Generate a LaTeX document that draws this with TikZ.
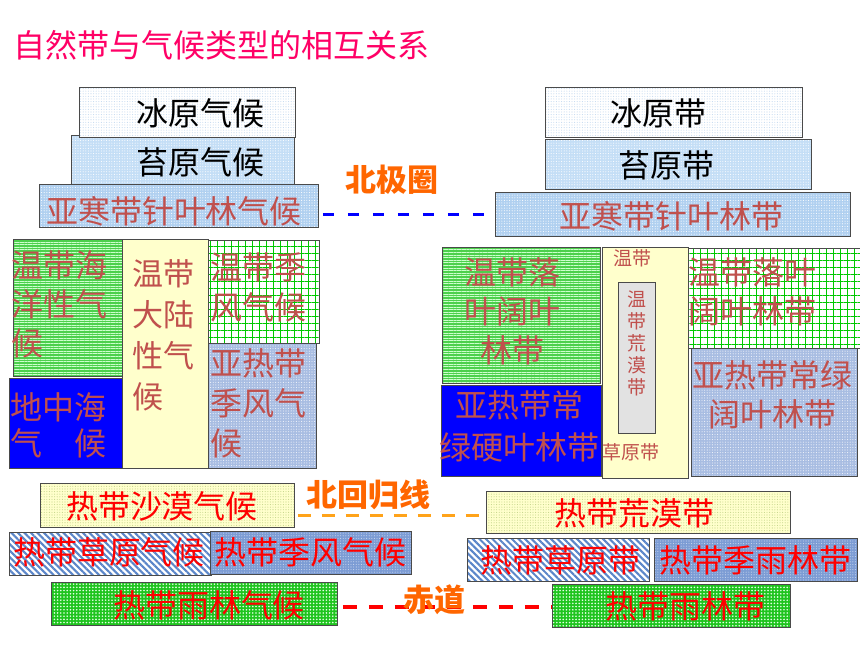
\documentclass[tikz,border=0pt]{standalone}
\usepackage{fontspec}
\setmainfont{Noto Sans CJK SC}
\usepackage{tikz}
\usetikzlibrary{patterns.meta}

\definecolor{titlepink}{HTML}{FF0066}
\definecolor{edgegray}{HTML}{4A4A4A}
\definecolor{brick}{HTML}{C0504D}
\definecolor{icedot}{HTML}{C4DAF0}
\definecolor{tundrablue}{HTML}{C4DEF6}
\definecolor{taigablue}{HTML}{B0D0F0}
\definecolor{oceangreen}{HTML}{4CD04C}
\definecolor{medblue}{HTML}{0000FF}
\definecolor{paleyellow}{HTML}{FFFFCC}
\definecolor{gridgreen}{HTML}{00C800}
\definecolor{steelgray}{HTML}{A8BDE2}
\definecolor{desertdot}{HTML}{C4D48A}
\definecolor{savblue}{HTML}{5B86C9}
\definecolor{tmonblue}{HTML}{7C9CD4}
\definecolor{rainfgreen}{HTML}{1EC41E}
\definecolor{tdesgray}{HTML}{E2E2E2}
\definecolor{circleorange}{HTML}{FF6600}
\definecolor{tropicorange}{HTML}{FFA31A}

\begin{document}
\begin{tikzpicture}[x=1pt,y=-1pt,
    zone/.style={draw=edgegray, line width=0.8pt, inner sep=0pt, anchor=north west},
    speckle/.style 2 args={preaction={fill=#1}, pattern={Dots[radius=0.55pt,distance=2.6pt]}, pattern color=#2},
    stripes/.style={preaction={fill=oceangreen}, pattern={Lines[angle=0,distance=2.6pt,line width=0.9pt]}, pattern color=white!80!green},
    meshed/.style={preaction={fill=white}, pattern={Hatch[angle=0,distance=7pt,line width=0.6pt]}, pattern color=gridgreen},
    hatched/.style={preaction={fill=white}, pattern={Lines[angle=-45,distance=4.6pt,line width=2.1pt]}, pattern color=savblue},
    txt/.style={inner sep=0pt, font=\fontsize{32}{39}\selectfont},
    smalltxt/.style={inner sep=0pt, font=\fontsize{19}{22}\selectfont},
    linename/.style={inner sep=0pt, text=circleorange, font=\fontsize{31}{31}\selectfont\bfseries}]
    \useasboundingbox[fill=white] (0,0) rectangle (860,645);

    % Title
    \node[anchor=west, inner sep=0pt, text=titlepink, font=\fontsize{32}{32}\selectfont] (title) at (13,45) {自然带与气候类型的相互关系};

    % Climate types (left)
    \node[zone, speckle={tundrablue}{white}, minimum width=223pt, minimum height=49pt] (tundraC) at (71,135) {};
    \node[zone, speckle={white}{icedot}, minimum width=216pt, minimum height=50pt] (iceC) at (79,87) {};
    \node[zone, speckle={taigablue}{white}, minimum width=279pt, minimum height=43pt] (taigaC) at (39,184) {};
    \node[zone, stripes, minimum width=109pt, minimum height=137pt] (oceanC) at (13,239) {};
    \node[zone, fill=medblue, minimum width=113pt, minimum height=90pt] (medC) at (9,378) {};
    \node[zone, fill=paleyellow, minimum width=86pt, minimum height=229pt] (contC) at (122,239) {};
    \node[zone, meshed, minimum width=111pt, minimum height=103pt] (monC) at (208,240) {};
    \node[zone, speckle={steelgray}{white!85!steelgray}, minimum width=108pt, minimum height=125pt] (subC) at (208,343) {};
    \node[zone, speckle={paleyellow}{desertdot}, minimum width=254pt, minimum height=44pt] (desertC) at (40,483) {};
    \node[zone, hatched, minimum width=202pt, minimum height=43pt] (savC) at (8,531) {};
    \node[zone, speckle={tmonblue}{white!60!tmonblue}, minimum width=201pt, minimum height=43pt] (tmonC) at (210,531) {};
    \node[zone, preaction={fill=rainfgreen}, pattern={Dots[radius=0.9pt,distance=3.2pt]}, pattern color=white!90!green, minimum width=286pt, minimum height=43pt] (rainC) at (51,582) {};

    % Natural zones (right)
    \node[zone, speckle={white}{icedot}, minimum width=257pt, minimum height=50pt] (iceZ) at (545,87) {};
    \node[zone, speckle={tundrablue}{white}, minimum width=266pt, minimum height=50pt] (tundraZ) at (545,139) {};
    \node[zone, speckle={taigablue}{white}, minimum width=355pt, minimum height=44pt] (taigaZ) at (495,192) {};
    \node[zone, stripes, minimum width=158pt, minimum height=136pt] (deciZ) at (442,247) {};
    \node[zone, fill=medblue, minimum width=160pt, minimum height=91pt] (sclerZ) at (441,385) {};
    \node[zone, fill=paleyellow, minimum width=86pt, minimum height=231pt] (steppeZ) at (602,247) {};
    \node[zone, fill=tdesgray, minimum width=37pt, minimum height=151pt] (tdesZ) at (618,282) {};
    \node[zone, meshed, minimum width=172pt, minimum height=100pt] (monZ) at (688,248) {};
    \node[zone, speckle={steelgray}{white!85!steelgray}, minimum width=166pt, minimum height=128pt] (everZ) at (691,348) {};
    \node[zone, speckle={paleyellow}{desertdot}, minimum width=304pt, minimum height=42pt] (desertZ) at (486,491) {};
    \node[zone, hatched, minimum width=182pt, minimum height=43pt] (savZ) at (467,538) {};
    \node[zone, speckle={tmonblue}{white!60!tmonblue}, minimum width=203pt, minimum height=43pt] (tmonZ) at (654,538) {};
    \node[zone, preaction={fill=rainfgreen}, pattern={Dots[radius=0.9pt,distance=3.2pt]}, pattern color=white!90!green, minimum width=238pt, minimum height=43pt] (rainZ) at (552,584) {};

    % Boundary lines
    \draw[blue, line width=3.5pt, dash pattern=on 11pt off 14pt] ([xshift=4pt]taigaC.east |- taigaZ.west) -- ([xshift=-8pt]taigaZ.west);
    \draw[tropicorange, line width=3.5pt, dash pattern=on 13pt off 11pt] ([xshift=3pt,yshift=-10pt]desertC.east) -- ([xshift=-3pt,yshift=-3pt]desertZ.west);
    \draw[red, line width=3.5pt, dash pattern=on 14pt off 12pt] ([xshift=5pt,yshift=-3pt]rainC.east) -- ([xshift=-1pt,yshift=-1pt]rainZ.west);

    % Labels, climate types
    \node[txt] (iceCt) at (200,113) {冰原气候};
    \node[txt] (tundraCt) at (200,162) {苔原气候};
    \node[txt, text=brick] (taigaCt) at (174,211) {亚寒带针叶林气候};
    \node[txt, text=brick, anchor=west, align=left] (oceanCt) at (11,304) {温带海\\洋性气\\候};
    \node[txt, text=brick, anchor=west, align=left, font=\fontsize{32}{36}\selectfont] (medCt) at (10,425) {地中海\\气\hspace{1em}候};
    \node[txt, text=brick, anchor=west, align=left, font=\fontsize{31}{41}\selectfont] (contCt) at (132,335) {温带\\大陆\\性气\\候};
    \node[txt, text=brick, anchor=west, align=left, font=\fontsize{32}{40}\selectfont] (monCt) at (210,287) {温带季\\风气候};
    \node[txt, text=brick, anchor=west, align=left, font=\fontsize{32}{40}\selectfont] (subCt) at (210,403) {亚热带\\季风气\\候};
    \node[txt, text=red] (desertCt) at (162,506) {热带沙漠气候};
    \node[txt, text=red] (savCt) at (109,552) {热带草原气候};
    \node[txt, text=red] (tmonCt) at (310,552) {热带季风气候};
    \node[txt, text=red] (rainCt) at (209,605) {热带雨林气候};

    % Labels, natural zones
    \node[txt] (iceZt) at (658,113) {冰原带};
    \node[txt] (tundraZt) at (666,165) {苔原带};
    \node[txt, text=brick] (taigaZt) at (671,216) {亚寒带针叶林带};
    \node[txt, text=brick, align=center] (deciZt) at (512,311) {温带落\\叶阔叶\\林带};
    \node[txt, text=brick, align=center, font=\fontsize{32}{42}\selectfont] (sclerZt) at (519,426) {亚热带常\\绿硬叶林带};
    \node[smalltxt, text=brick] (steppeZt) at (632,258) {温带};
    \node[smalltxt, text=brick, align=center] (tdesZt) at (637,343) {温\\带\\荒\\漠\\带};
    \node[smalltxt, text=brick] (grassZt) at (631,452) {草原带};
    \node[txt, text=brick, anchor=west, align=left] (monZt) at (688,292) {温带落叶\\阔叶林带};
    \node[txt, text=brick, align=center] (everZt) at (772,395) {亚热带常绿\\阔叶林带};
    \node[txt, text=red] (desertZt) at (634,513) {热带荒漠带};
    \node[txt, text=red] (savZt) at (560,560) {热带草原带};
    \node[txt, text=red] (tmonZt) at (755,560) {热带季雨林带};
    \node[txt, text=red] (rainZt) at (685,606) {热带雨林带};

    % Line names
    \node[linename] (arctic) at (392,180) {北极圈};
    \node[linename] (tropic) at (368,495) {北回归线};
    \node[linename] (equator) at (434,600) {赤道};
\end{tikzpicture}
\end{document}
